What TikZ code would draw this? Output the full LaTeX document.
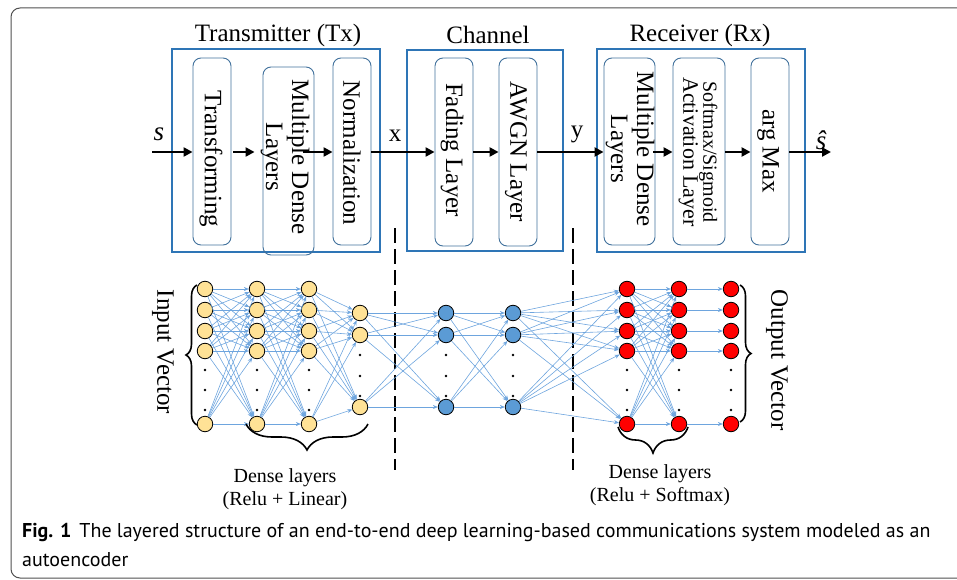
\documentclass[tikz,border=0pt]{standalone}
\usepackage{fontspec}
\setmainfont{Liberation Serif}
\newfontfamily\capfont{PT Sans}
\usetikzlibrary{arrows.meta,decorations.pathreplacing,calc}
\definecolor{boxblue}{RGB}{46,117,182}
\definecolor{inblue}{RGB}{65,113,156}
\definecolor{edgeblue}{RGB}{110,165,222}
\definecolor{nyellow}{RGB}{255,226,150}
\definecolor{nblue}{RGB}{91,155,213}
\definecolor{nred}{RGB}{255,0,0}
\definecolor{framegray}{RGB}{80,80,80}
\tikzset{
  outerbox/.style={draw=boxblue,line width=2pt,inner sep=0pt},
  innerbox/.style={draw=inblue,line width=0.9pt,rounded corners=8pt,inner sep=0pt},
  vlabel/.style={rotate=-90,font=\fontsize{25}{26}\selectfont,align=center,inner sep=0pt},
  vlabelsm/.style={rotate=-90,align=center,inner sep=0pt},
  titletext/.style={font=\fontsize{25}{27}\selectfont,inner sep=0pt},
  flow/.style={line width=2.6pt,-{Triangle[length=9pt,width=9pt]}},
  neuron/.style={circle,draw=black,line width=0.8pt,minimum size=15.5pt,inner sep=0pt},
  conn/.style={draw=edgeblue,line width=0.6pt,-{Stealth[length=5pt,width=4pt]}},
  divider/.style={line width=2.2pt,dash pattern=on 15pt off 6pt},
  curly/.style={decorate,decoration={brace,amplitude=#1},line width=1.6pt},
  smalltext/.style={font=\fontsize{20}{23}\selectfont,align=center,inner sep=0pt},
}
\begin{document}
\begin{tikzpicture}[x=1pt,y=-1pt]
\useasboundingbox (0,0) rectangle (957,580);
% outer frame
\draw[framegray,line width=1pt,rounded corners=9pt] (960,8) -- (11,8) -- (11,578) -- (960,578);

% titles
\node[titletext] (ttx) at (278,35) {Transmitter (Tx)};
\node[titletext] (tch) at (488,35) {Channel};
\node[titletext] (trx) at (700,35) {Receiver (Rx)};

% outer boxes
\node[outerbox,minimum width=208pt,minimum height=203pt] (tx) at (276,150.5) {};
\node[outerbox,minimum width=156pt,minimum height=201pt] (ch) at (485,150.5) {};
\node[outerbox,minimum width=208pt,minimum height=203pt] (rx) at (701,150.5) {};

% inner boxes
\node[innerbox,minimum width=38pt,minimum height=187pt] (tf) at (212,151.5) {};
\node[innerbox,minimum width=51pt,minimum height=188pt] (mdl) at (288.5,161) {};
\node[innerbox,minimum width=38pt,minimum height=187pt] (nrm) at (352,151.5) {};
\node[innerbox,minimum width=38pt,minimum height=188pt] (fad) at (454,152) {};
\node[innerbox,minimum width=38pt,minimum height=188pt] (awgn) at (518,152) {};
\node[innerbox,minimum width=51pt,minimum height=187pt] (rmdl) at (629.5,151.5) {};
\node[innerbox,minimum width=52pt,minimum height=187pt] (act) at (699,151.5) {};
\node[innerbox,minimum width=38pt,minimum height=187pt] (amx) at (770,151.5) {};

% inner texts
\node[vlabel] (ltf) at (211,159) {Transforming};
\node[vlabel] (lmdl) at (285,157) {Multiple Dense\\Layers};
\node[vlabel] (lnrm) at (352,153) {Normalization};
\node[vlabel] (lfad) at (452,150) {Fading Layer};
\node[vlabel] (lawgn) at (516,152) {AWGN Layer};
\node[vlabel] (lrmdl) at (630,149) {Multiple Dense\\Layers};
\node[vlabelsm] (lact) at (698,152) {{\fontsize{20}{22}\selectfont Softmax/Sigmoid}\\{\fontsize{22}{26}\selectfont Activation Layer}};
\node[vlabel] (lamx) at (768,151) {arg Max};

% signal flow
\coordinate (ay) at (0,152);
\coordinate (sin) at (152,152);
\coordinate (sout) at (831,152);
\draw[flow] (sin) -- (tf.west |- ay);
\draw[flow,shorten <=2pt,shorten >=8pt] (tf.east |- ay) -- (mdl.west |- ay);
\draw[flow,shorten <=-11pt] (mdl.east |- ay) -- (nrm.west |- ay);
\draw[flow] (nrm.east |- ay) -- (fad.west |- ay);
\draw[flow] (fad.east |- ay) -- (awgn.west |- ay);
\draw[flow] (awgn.east |- ay) -- (rmdl.west |- ay);
\draw[flow,shorten <=-2pt] (rmdl.east |- ay) -- (act.west |- ay);
\draw[flow] (act.east |- ay) -- (amx.west |- ay);
\draw[flow] (amx.east |- ay) -- (sout);
\node[titletext,font=\fontsize{27}{29}\selectfont\itshape] (ls) at (159,134) {s};
\node[titletext] (lx) at (395,136) {x};
\node[titletext] (ly) at (577,134) {y};
\node[titletext,font=\fontsize{27}{29}\selectfont\itshape] (lsh) at (821,140) {\^{s}};

% dashed dividers
\coordinate (d1t) at (395,228); \coordinate (d1b) at (395,470);
\coordinate (d2t) at (573,228); \coordinate (d2b) at (573,470);
\draw[divider] (d1t) -- (d1b);
\draw[divider] (d2t) -- (d2b);

% neurons
\foreach \c/\x in {L1/205,L2/257,L3/309}{
  \foreach \r/\y in {1/289,2/310,3/331,4/351,5/424}
    \node[neuron,fill=nyellow] (\c-\r) at (\x,\y) {};
  \foreach \y in {370,390,410} \fill (\x,\y) circle (1.3pt);
}
\foreach \r/\y in {1/313,2/335,3/407} \node[neuron,fill=nyellow] (L4-\r) at (360,\y) {};
\foreach \y in {355,376,396} \fill (360,\y) circle (1.3pt);
\foreach \c/\x in {B1/446,B2/513}{
  \foreach \r/\y in {1/313,2/335,3/407}
    \node[neuron,fill=nblue] (\c-\r) at (\x,\y) {};
  \foreach \y in {355,376,396} \fill (\x,\y) circle (1.3pt);
}
\foreach \c/\x in {R1/627,R2/679,R3/731}{
  \foreach \r/\y in {1/289,2/310,3/331,4/351,5/424}
    \node[neuron,fill=nred] (\c-\r) at (\x,\y) {};
  \foreach \y in {370,390,410} \fill (\x,\y) circle (1.3pt);
}

% connections
\foreach \i in {1,...,5}{
  \foreach \j in {1,...,5}{
    \draw[conn] (L1-\i) -- (L2-\j);
    \draw[conn] (L2-\i) -- (L3-\j);
    \draw[conn] (R1-\i) -- (R2-\j);
  }
  \foreach \j in {1,2,3} \draw[conn] (L3-\i) -- (L4-\j);
  \draw[conn] (R2-\i) -- (R3-\i);
}
\foreach \i in {1,2,3}{
  \foreach \j in {1,2,3}{
    \draw[conn] (L4-\i) -- (B1-\j);
    \draw[conn] (B1-\i) -- (B2-\j);
  }
  \foreach \j in {1,...,5} \draw[conn] (B2-\i) -- (R1-\j);
}

% braces
\coordinate (bi1) at (197,425); \coordinate (bi2) at (197,285);
\draw[curly=11pt] (bi1) -- (bi2);
\coordinate (bo1) at (740,285); \coordinate (bo2) at (740,422);
\draw[curly=11pt] (bo1) -- (bo2);
\coordinate (bt1) at (368,424); \coordinate (bt2) at (246,424);
\draw[curly=26pt] (bt1) -- (bt2);
\coordinate (br1) at (688,427); \coordinate (br2) at (618,427);
\draw[curly=26pt] (br1) -- (br2);

\node[smalltext] (dtx) at (285,489) {Dense layers\\(Relu + Linear)};
\node[smalltext] (drx) at (660,485) {Dense layers\\(Relu + Softmax)};
\node[vlabel] (inv) at (163,352) {Input Vector};
\node[vlabel] (outv) at (777,360) {Output Vector};

% caption
\node[anchor=west,inner sep=0pt,font=\capfont\fontsize{20}{24}\selectfont] (cap1) at (22,532) {\textbf{Fig. 1}\hspace{8pt}The layered structure of an end-to-end deep learning-based communications system modeled as an};
\node[anchor=west,inner sep=0pt,font=\capfont\fontsize{20}{24}\selectfont] (cap2) at (22,560) {autoencoder};
\end{tikzpicture}
\end{document}
